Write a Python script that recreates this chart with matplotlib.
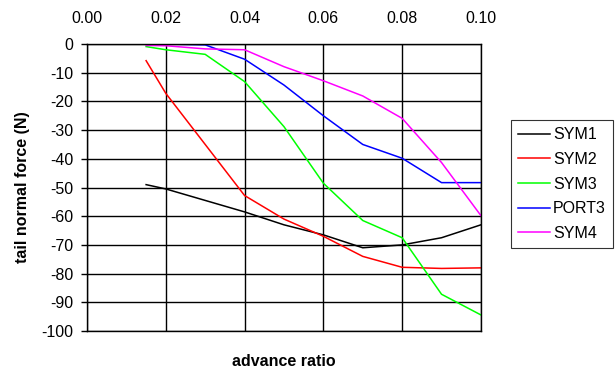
import matplotlib
matplotlib.use("Agg")
import matplotlib.pyplot as plt

plt.rcParams["font.family"] = ["Liberation Sans", "DejaVu Sans"]
plt.rcParams["axes.unicode_minus"] = False

# advance ratio sample points
adv = [0.015, 0.02, 0.03, 0.04, 0.05, 0.06, 0.07, 0.08, 0.09, 0.10]

sym1 = [-49, -50.5, -54.5, -58.5, -63, -66.5, -71, -70, -67.5, -63]
sym2 = [-5.8, -17.2, -35, -52.8, -61, -67, -74, -77.8, -78.2, -78]
sym3 = [-0.9, -2, -3.6, -13.1, -28.8, -48.5, -61.5, -67.5, -87.2, -94.4]
port3 = [0, 0, -0.3, -5.3, -14.3, -25, -35, -39.8, -48.3, -48.3]
sym4 = [-0.5, -0.6, -1.7, -2.0, -7.9, -12.8, -18.1, -25.9, -41.3, -59.8]

series = [
    ("SYM1", sym1, "black"),
    ("SYM2", sym2, "red"),
    ("SYM3", sym3, "#00ff00"),
    ("PORT3", port3, "blue"),
    ("SYM4", sym4, "magenta"),
]

FS = 11.5

fig = plt.figure(figsize=(6.15, 3.73), dpi=100)
ax = fig.add_axes([0.1415, 0.1126, 0.6405, 0.7694])

for name, vals, col in series:
    ax.plot(adv, vals, color=col, lw=1.1, label=name)

ax.set_xlim(0, 0.10)
ax.set_ylim(-100, 0)
ax.set_xticks([0.00, 0.02, 0.04, 0.06, 0.08, 0.10])
ax.set_xticklabels(["0.00", "0.02", "0.04", "0.06", "0.08", "0.10"])
ax.set_yticks(range(-100, 1, 10))
ax.xaxis.tick_top()
ax.tick_params(axis="both", labelsize=FS, color="black")
ax.tick_params(axis="y", length=4, width=1, pad=6)
ax.tick_params(axis="x", length=0, pad=13)
ax.grid(True, color="black", lw=1)
for s in ax.spines.values():
    s.set_color("black")
    s.set_linewidth(1)

ax.set_ylabel("tail normal force (N)", fontsize=FS, fontweight="bold", labelpad=8)
fig.text(0.462, 0.032, "advance ratio", fontsize=FS, fontweight="bold",
         ha="center", va="center")

leg = ax.legend(loc="center left", bbox_to_anchor=(1.076, 0.512), fontsize=FS,
                frameon=True, fancybox=False, edgecolor="black",
                borderpad=0.45, handlelength=2.0, labelspacing=0.6,
                handletextpad=0.2, borderaxespad=0)
leg.get_frame().set_linewidth(0.8)

fig.savefig("out.png", dpi=100, facecolor="white")
